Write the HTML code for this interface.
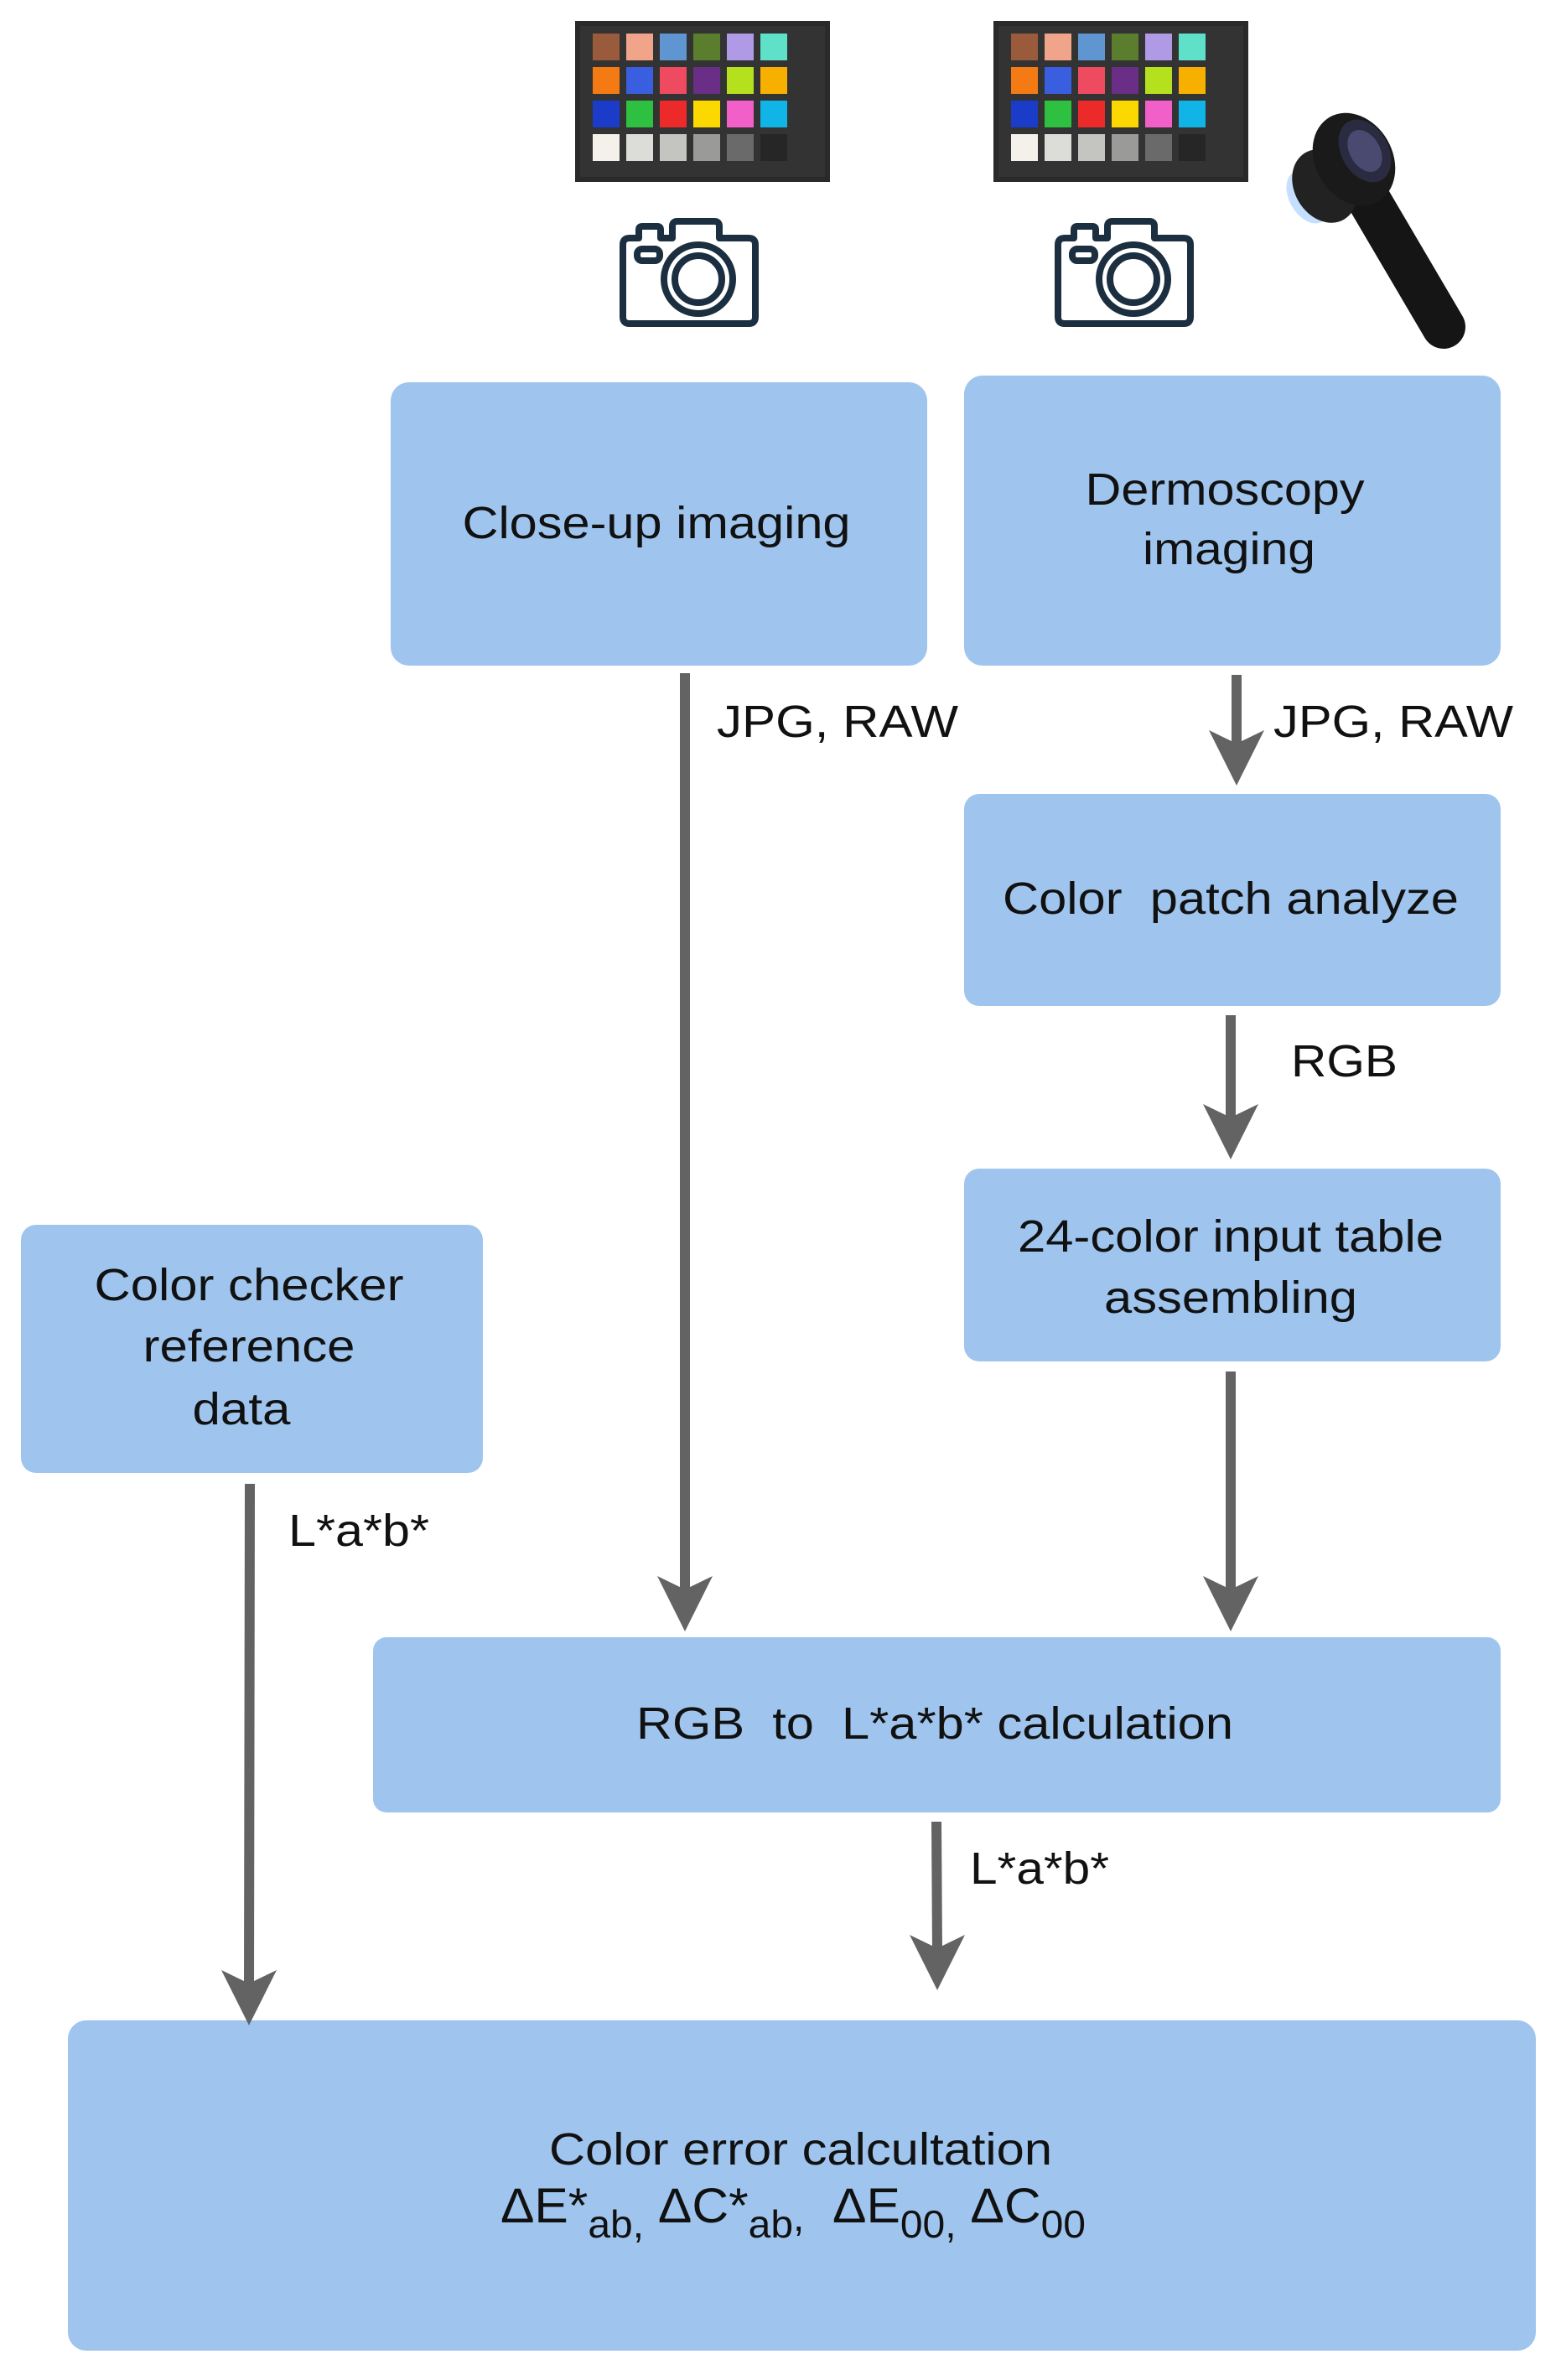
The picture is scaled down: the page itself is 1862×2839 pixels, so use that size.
<!DOCTYPE html>
<html><head><meta charset="utf-8"><style>
html,body{margin:0;padding:0;background:#fff;}
svg{display:block;}
text{font-family:"Liberation Sans",Arial,sans-serif;fill:#111;}
</style></head><body>
<svg width="1862" height="2839" viewBox="0 0 1862 2839" xmlns="http://www.w3.org/2000/svg">
<defs>
<g id="checker">
  <rect x="0" y="0" width="304" height="192" fill="#2a2a2a"/>
  <rect x="6" y="6" width="292" height="180" fill="#333"/>
  <g>
    <rect x="21" y="15" width="32" height="32" fill="#9a5a3c"/>
    <rect x="61" y="15" width="32" height="32" fill="#f0a58a"/>
    <rect x="101" y="15" width="32" height="32" fill="#5f95d0"/>
    <rect x="141" y="15" width="32" height="32" fill="#5a7d2e"/>
    <rect x="181" y="15" width="32" height="32" fill="#b09ae6"/>
    <rect x="221" y="15" width="32" height="32" fill="#5fe0c8"/>
    <rect x="21" y="55" width="32" height="32" fill="#f47a14"/>
    <rect x="61" y="55" width="32" height="32" fill="#3a5ee0"/>
    <rect x="101" y="55" width="32" height="32" fill="#ee4a60"/>
    <rect x="141" y="55" width="32" height="32" fill="#6a2e86"/>
    <rect x="181" y="55" width="32" height="32" fill="#b4e01e"/>
    <rect x="221" y="55" width="32" height="32" fill="#f8b000"/>
    <rect x="21" y="95" width="32" height="32" fill="#1a3cc8"/>
    <rect x="61" y="95" width="32" height="32" fill="#2ec040"/>
    <rect x="101" y="95" width="32" height="32" fill="#ec2a2a"/>
    <rect x="141" y="95" width="32" height="32" fill="#fad800"/>
    <rect x="181" y="95" width="32" height="32" fill="#f060c8"/>
    <rect x="221" y="95" width="32" height="32" fill="#10b4e6"/>
    <rect x="21" y="135" width="32" height="32" fill="#f4f0ea"/>
    <rect x="61" y="135" width="32" height="32" fill="#dcdcd8"/>
    <rect x="101" y="135" width="32" height="32" fill="#c4c4c0"/>
    <rect x="141" y="135" width="32" height="32" fill="#9a9a98"/>
    <rect x="181" y="135" width="32" height="32" fill="#6a6a6a"/>
    <rect x="221" y="135" width="32" height="32" fill="#262626"/>
  </g>
</g>
<g id="camera" fill="none" stroke="#1b2f40" stroke-width="8" stroke-linejoin="round">
  <path d="M754 284 L762 284 L762 274 Q762 270 766 270 L784 270 Q788 270 788 274 L788 284 L802 284 L802 270 Q802 264 808 264 L852 264 Q858 264 858 270 L858 284 L893 284 Q901 284 901 292 L901 378 Q901 386 893 386 L751 386 Q743 386 743 378 L743 292 Q743 284 751 284 Z"/>
  <circle cx="833" cy="333" r="41"/>
  <circle cx="833" cy="333" r="28"/>
  <rect x="760" y="297" width="27" height="14" rx="6"/>
</g>
<g id="ahead"><path d="M-33 -66 L0 -50 L33 -66 L0 0 Z" fill="#636363"/></g>
</defs>

<use href="#checker" x="686" y="25"/>
<use href="#checker" x="1185" y="25"/>
<use href="#camera"/>
<use href="#camera" x="519"/>

<!-- dermoscope -->
<g>
  <ellipse cx="1560" cy="235" rx="22" ry="34" fill="#9ecbff" opacity="0.6" transform="rotate(-30 1560 235)"/>
  <line x1="1625" y1="225" x2="1722" y2="390" stroke="#151515" stroke-width="52" stroke-linecap="round"/>
  <ellipse cx="1580" cy="222" rx="36" ry="46" fill="#222" transform="rotate(-30 1580 222)"/>
  <ellipse cx="1615" cy="190" rx="46" ry="58" fill="#1a1a1a" transform="rotate(-30 1615 190)"/>
  <ellipse cx="1628" cy="180" rx="28" ry="40" fill="#2a2a40" transform="rotate(-30 1628 180)"/>
  <ellipse cx="1628" cy="180" rx="18" ry="27" fill="#4a4a70" transform="rotate(-30 1628 180)"/>
</g>

<g fill="#9fc5ee">
  <rect x="466" y="456" width="640" height="338" rx="22"/>
  <rect x="1150" y="448" width="640" height="346" rx="22"/>
  <rect x="1150" y="947" width="640" height="253" rx="18"/>
  <rect x="1150" y="1394" width="640" height="230" rx="18"/>
  <rect x="25" y="1461" width="551" height="296" rx="18"/>
  <rect x="445" y="1953" width="1345" height="209" rx="16"/>
  <rect x="81" y="2410" width="1751" height="394" rx="22"/>
</g>

<g stroke="#636363" stroke-width="12">
  <line x1="817" y1="803" x2="817" y2="1900"/>
  <line x1="1475" y1="805" x2="1475" y2="900"/>
  <line x1="1468" y1="1211" x2="1468" y2="1340"/>
  <line x1="1468" y1="1636" x2="1468" y2="1900"/>
  <line x1="298" y1="1770" x2="297" y2="2370"/>
  <line x1="1117" y1="2173" x2="1118" y2="2330"/>
</g>
<use href="#ahead" x="817" y="1946"/>
<use href="#ahead" x="1475" y="937"/>
<use href="#ahead" x="1468" y="1383"/>
<use href="#ahead" x="1468" y="1946"/>
<use href="#ahead" x="297" y="2416"/>
<use href="#ahead" x="1118" y="2374"/>

<g font-size="54" text-anchor="middle">
  <text x="783" y="642" textLength="463" lengthAdjust="spacingAndGlyphs">Close-up imaging</text>
  <text x="1461" y="602" textLength="333" lengthAdjust="spacingAndGlyphs">Dermoscopy</text>
  <text x="1466" y="673" textLength="206" lengthAdjust="spacingAndGlyphs">imaging</text>
  <text x="1468" y="1090" textLength="544" lengthAdjust="spacingAndGlyphs" xml:space="preserve">Color  patch analyze</text>
  <text x="1468" y="1493" textLength="508" lengthAdjust="spacingAndGlyphs">24-color input table</text>
  <text x="1468" y="1566" textLength="302" lengthAdjust="spacingAndGlyphs">assembling</text>
  <text x="297" y="1551" textLength="369" lengthAdjust="spacingAndGlyphs">Color checker</text>
  <text x="297" y="1624" textLength="253" lengthAdjust="spacingAndGlyphs">reference</text>
  <text x="288" y="1699" textLength="117" lengthAdjust="spacingAndGlyphs">data</text>
  <text x="1115" y="2074" textLength="712" lengthAdjust="spacingAndGlyphs" xml:space="preserve">RGB  to  L*a*b* calculation</text>
  <text x="955" y="2582" textLength="600" lengthAdjust="spacingAndGlyphs">Color error calcultation</text>
</g>
<text x="597" y="2651" font-size="58" textLength="698" lengthAdjust="spacingAndGlyphs" xml:space="preserve">ΔE*<tspan font-size="46" dy="18">ab,</tspan><tspan dy="-18"> ΔC*</tspan><tspan font-size="46" dy="18">ab</tspan><tspan font-size="46" dy="-8">,</tspan><tspan dy="-10">  ΔE</tspan><tspan font-size="46" dy="18">00,</tspan><tspan dy="-18"> ΔC</tspan><tspan font-size="46" dy="18">00</tspan></text>

<g font-size="54">
  <text x="855" y="879" textLength="288" lengthAdjust="spacingAndGlyphs">JPG, RAW</text>
  <text x="1519" y="879" textLength="286" lengthAdjust="spacingAndGlyphs">JPG, RAW</text>
  <text x="1540" y="1284" textLength="127" lengthAdjust="spacingAndGlyphs">RGB</text>
  <text x="344" y="1844" textLength="168" lengthAdjust="spacingAndGlyphs">L*a*b*</text>
  <text x="1157" y="2247" textLength="166" lengthAdjust="spacingAndGlyphs">L*a*b*</text>
</g>
</svg>
</body></html>
